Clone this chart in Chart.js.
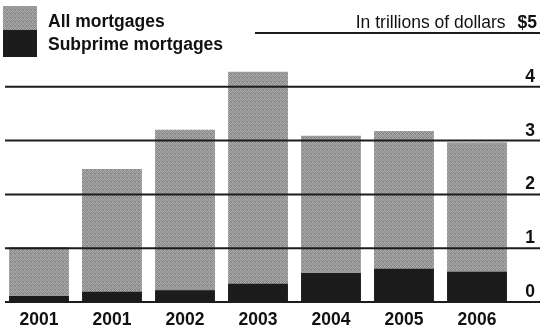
<!DOCTYPE html>
<html>
<head>
<meta charset="utf-8">
<script src="https://cdn.jsdelivr.net/npm/chart.js@4"></script>
<style>
  body { margin: 0; background: #fff; }
  canvas { display: block; }
</style>
</head>
<body>
<canvas id="mortgageChart" width="540" height="326"></canvas>
<script>
// data (trillions of dollars)
const years = ["2001", "2001", "2002", "2003", "2004", "2005", "2006"];
const allMortgages = [1.02, 2.47, 3.2, 4.28, 3.09, 3.18, 2.97];
const subprimeMortgages = [0.11, 0.19, 0.22, 0.34, 0.54, 0.62, 0.56];
const yTickValues = [0, 1, 2, 3, 4, 5];
const yTickLabels = ["0", "1", "2", "3", "4", "$5"];
const unitLabel = "In trillions of dollars";

const INK = "#1c1c1c";
const FONT = "'Liberation Sans', Arial, Helvetica, sans-serif";

// speckled grey, like the print halftone
function makeGreyPattern() {
    const shades = [
        "#a2a2a2", "#848484", "#b0b0b0", "#949494",
        "#8e8e8e", "#aaaaaa", "#7a7a7a", "#9e9e9e",
        "#b4b4b4", "#989898", "#9a9a9a", "#828282",
        "#8a8a8a", "#a6a6a6", "#939393", "#acacac"
    ];
    const c = document.createElement("canvas");
    c.width = 4;
    c.height = 4;
    const g = c.getContext("2d");
    shades.forEach((s, i) => {
        g.fillStyle = s;
        g.fillRect(i % 4, Math.floor(i / 4), 1, 1);
    });
    return g.createPattern(c, "repeat");
}

const greyFill = makeGreyPattern();

// grid lines, right-hand labels and the legend, drawn over the bars
const overlayPlugin = {
    id: "overlay",
    afterDatasetsDraw(chart) {
        const ctx = chart.ctx;
        const y = chart.scales.y;
        const w = chart.width;
        ctx.save();

        yTickValues.forEach((v, i) => {
            const last = i === yTickValues.length - 1;
            const py = y.getPixelForValue(v);
            ctx.strokeStyle = INK;
            ctx.lineWidth = 2;
            ctx.beginPath();
            ctx.moveTo(last ? 255 : 5, py);
            ctx.lineTo(w, py);
            ctx.stroke();

            ctx.fillStyle = "#111";
            ctx.textAlign = "right";
            ctx.textBaseline = "alphabetic";
            ctx.font = "bold 17.5px " + FONT;
            const rightX = last ? 537 : 535;
            ctx.fillText(yTickLabels[i], rightX, py - 5);

            if (last) {
                const lw = ctx.measureText(yTickLabels[i]).width;
                ctx.font = "17.5px " + FONT;
                ctx.fillText(unitLabel, rightX - lw - 12, py - 5);
            }
        });

        // legend
        ctx.fillStyle = greyFill;
        ctx.fillRect(3, 6, 34, 24);
        ctx.fillStyle = INK;
        ctx.fillRect(3, 30, 34, 27);
        ctx.fillStyle = "#111";
        ctx.textAlign = "left";
        ctx.font = "bold 17.5px " + FONT;
        ctx.fillText("All mortgages", 48, 27);
        ctx.fillText("Subprime mortgages", 48, 50);

        ctx.restore();
    }
};

const chart = new Chart(document.getElementById("mortgageChart"), {
    type: "bar",
    data: {
        labels: years,
        datasets: [
            {
                label: "All mortgages",
                data: allMortgages,
                backgroundColor: greyFill,
                order: 1
            },
            {
                label: "Subprime mortgages",
                data: subprimeMortgages,
                backgroundColor: INK,
                order: 0
            }
        ]
    },
    options: {
        responsive: false,
        animation: false,
        layout: {
            padding: { top: 33, left: 2.5, right: 26.5, bottom: 0 }
        },
        datasets: {
            bar: {
                grouped: false,
                barPercentage: 0.82,
                categoryPercentage: 1,
                borderWidth: 0
            }
        },
        plugins: {
            legend: { display: false },
            tooltip: { enabled: false }
        },
        scales: {
            x: {
                grid: { display: false, drawTicks: false },
                border: { display: false },
                ticks: {
                    color: "#111",
                    padding: 8,
                    maxRotation: 0,
                    autoSkip: false,
                    font: { family: FONT, size: 17.5, weight: "bold" }
                },
                afterFit(scale) {
                    scale.height = 24;
                }
            },
            y: {
                display: false,
                min: 0,
                max: 5
            }
        }
    },
    plugins: [overlayPlugin]
});
</script>
</body>
</html>
